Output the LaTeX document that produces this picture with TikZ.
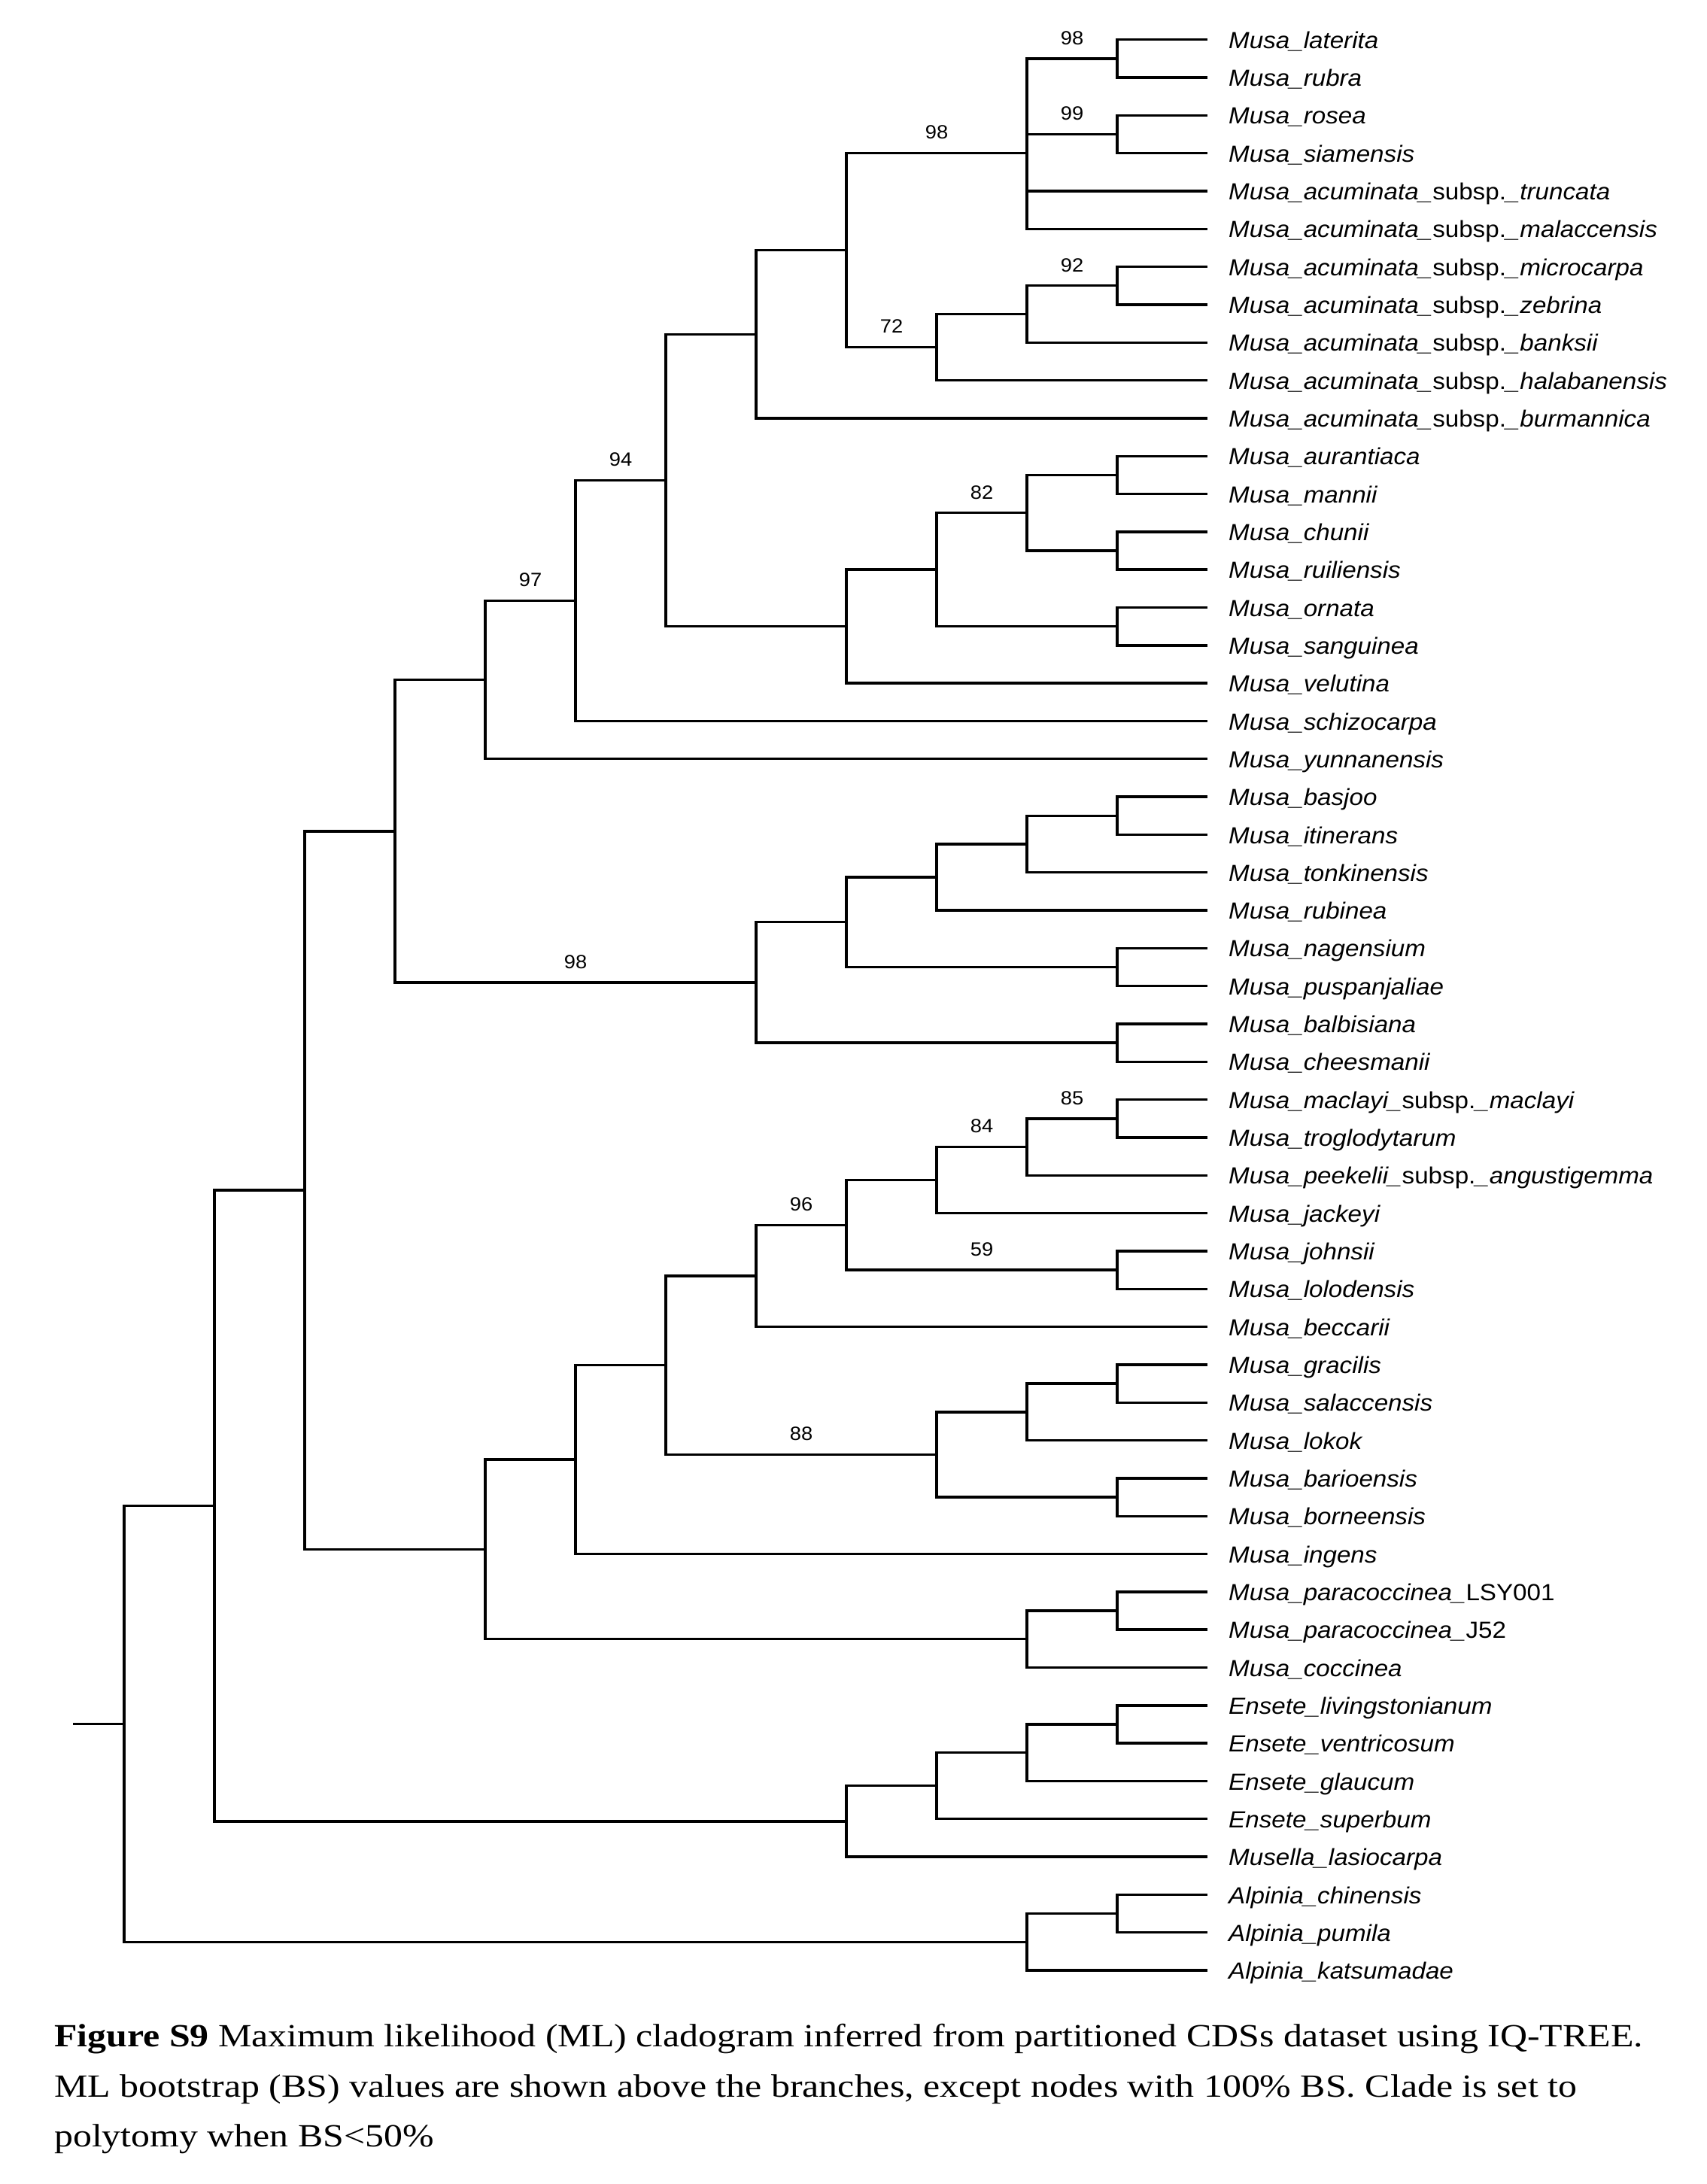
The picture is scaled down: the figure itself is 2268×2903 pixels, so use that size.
\documentclass[tikz,border=0pt]{standalone}
\usepackage{fontspec}
\setmainfont{Liberation Serif}
\newfontfamily\labfont[FakeStretch=1.07]{Liberation Sans}
\newfontfamily\capfont[FakeStretch=1.16]{Liberation Serif}
\usetikzlibrary{calc}
\newcommand\Yp[1]{52.7+(#1-1)*50.32}
\newcommand\Xl[1]{165+120*#1}
\begin{document}
\begin{tikzpicture}[x=1pt,y=-1pt,
  br/.style={line width=3.4pt, line join=miter},
  taxon/.style={anchor=base west, inner sep=0pt, xshift=28pt, yshift=-11.6pt, font=\labfont\fontsize{31}{31}\selectfont\itshape},
  bs/.style={anchor=base, inner sep=0pt, yshift=18.7pt, font=\labfont\fontsize{25.5}{25.5}\selectfont},
  captext/.style={anchor=base west, inner sep=0pt, font=\capfont\fontsize{43}{43}\selectfont}]
\useasboundingbox[fill=white] (0,0) rectangle (2268,2903);
% leaves
\foreach \t [count=\i] in {
 {Musa\_laterita},{Musa\_rubra},{Musa\_rosea},{Musa\_siamensis},
 {Musa\_acuminata\_{\upshape subsp.}\_truncata},
 {Musa\_acuminata\_{\upshape subsp.}\_malaccensis},
 {Musa\_acuminata\_{\upshape subsp.}\_microcarpa},
 {Musa\_acuminata\_{\upshape subsp.}\_zebrina},
 {Musa\_acuminata\_{\upshape subsp.}\_banksii},
 {Musa\_acuminata\_{\upshape subsp.}\_halabanensis},
 {Musa\_acuminata\_{\upshape subsp.}\_burmannica},
 {Musa\_aurantiaca},{Musa\_mannii},{Musa\_chunii},{Musa\_ruiliensis},
 {Musa\_ornata},{Musa\_sanguinea},{Musa\_velutina},{Musa\_schizocarpa},
 {Musa\_yunnanensis},{Musa\_basjoo},{Musa\_itinerans},{Musa\_tonkinensis},
 {Musa\_rubinea},{Musa\_nagensium},{Musa\_puspanjaliae},{Musa\_balbisiana},
 {Musa\_cheesmanii},
 {Musa\_maclayi\_{\upshape subsp.}\_maclayi},
 {Musa\_troglodytarum},
 {Musa\_peekelii\_{\upshape subsp.}\_angustigemma},
 {Musa\_jackeyi},{Musa\_johnsii},{Musa\_lolodensis},{Musa\_beccarii},
 {Musa\_gracilis},{Musa\_salaccensis},{Musa\_lokok},{Musa\_barioensis},
 {Musa\_borneensis},{Musa\_ingens},
 {Musa\_paracoccinea\_{\upshape LSY001}},
 {Musa\_paracoccinea\_{\upshape J52}},
 {Musa\_coccinea},{Ensete\_livingstonianum},{Ensete\_ventricosum},
 {Ensete\_glaucum},{Ensete\_superbum},{Musella\_lasiocarpa},
 {Alpinia\_chinensis},{Alpinia\_pumila},{Alpinia\_katsumadae}}
{
  \coordinate (l\i) at (1605,{\Yp{\i}});
  \node[taxon] (n\i) at (l\i) {\t};
}
% internal nodes: name/level/leaf-index
\foreach \nm/\lv/\ix in {
 a1/11/1.5, a2/11/3.5, a3/10/4.0, a4/11/7.5, a5/10/8.25, a6/9/9.125,
 a7/8/6.5625, a8/7/8.78125,
 b1/11/12.5, b2/11/14.5, b3/10/13.5, b4/11/16.5, b5/9/15, b6/8/16.5,
 c1/6/12.640625, c2/5/15.8203125, c3/4/17.91015625,
 d1/11/21.5, d2/10/22.25, d3/9/23.125, d4/11/25.5, d5/8/24.3125,
 d6/11/27.5, d7/7/25.90625, c4/3/21.908203125,
 e1/11/29.5, e2/10/30.25, e3/9/31.125, e4/11/33.5, e5/8/32.3125,
 e6/7/33.65625,
 f1/11/36.5, f2/10/37.25, f3/11/39.5, f4/9/38.375,
 g1/6/36.015625, g2/5/38.5078125, h1/11/42.5, h2/10/43.25,
 g3/4/40.87890625, m1/2/31.3935546875,
 k1/11/45.5, k2/10/46.25, k3/9/47.125, k4/8/48.0625,
 m2/1/39.72802734375, p1/11/50.5, p2/10/51.25, r/0/45.489013671875}
{
  \coordinate (\nm) at ({\Xl{\lv}},{\Yp{\ix}});
}
\coordinate (s) at (97,{\Yp{45.489013671875}});
% branches parent/child
\foreach \p/\c in {
 a1/l1, a1/l2, a2/l3, a2/l4, a3/a1, a3/a2, a3/l5, a3/l6,
 a4/l7, a4/l8, a5/a4, a5/l9, a6/a5, a6/l10, a7/a3, a7/a6, a8/a7, a8/l11,
 b1/l12, b1/l13, b2/l14, b2/l15, b3/b1, b3/b2, b4/l16, b4/l17,
 b5/b3, b5/b4, b6/b5, b6/l18,
 c1/a8, c1/b6, c2/c1, c2/l19, c3/c2, c3/l20,
 d1/l21, d1/l22, d2/d1, d2/l23, d3/d2, d3/l24, d4/l25, d4/l26,
 d5/d3, d5/d4, d6/l27, d6/l28, d7/d5, d7/d6, c4/c3, c4/d7,
 e1/l29, e1/l30, e2/e1, e2/l31, e3/e2, e3/l32, e4/l33, e4/l34,
 e5/e3, e5/e4, e6/e5, e6/l35,
 f1/l36, f1/l37, f2/f1, f2/l38, f3/l39, f3/l40, f4/f2, f4/f3,
 g1/e6, g1/f4, g2/g1, g2/l41, h1/l42, h1/l43, h2/h1, h2/l44,
 g3/g2, g3/h2, m1/c4, m1/g3,
 k1/l45, k1/l46, k2/k1, k2/l47, k3/k2, k3/l48, k4/k3, k4/l49,
 m2/m1, m2/k4, p1/l50, p1/l51, p2/p1, p2/l52, r/m2, r/p2}
{
  \draw[br] (\p) |- (\c);
}
\draw[br] (s) -- (r);
% bootstrap values
\foreach \p/\c/\v [count=\j] in {
 a3/a1/98, a3/a2/99, a7/a3/98, a5/a4/92, a7/a6/72, c2/c1/94, b5/b3/82,
 c3/c2/97, c4/d7/98, e2/e1/85, e3/e2/84, e6/e5/96, e5/e4/59, g1/f4/88}
{
  \node[bs] (bs\j) at ($(\p |- \c)!0.5!(\c)$) {\v};
}
% caption
\node[captext] (cap1) at (72,2720) {\textbf{Figure S9} Maximum likelihood (ML) cladogram inferred from partitioned CDSs dataset using IQ-TREE.};
\node[captext] (cap2) at (72,2787) {ML bootstrap (BS) values are shown above the branches, except nodes with 100\% BS. Clade is set to};
\node[captext] (cap3) at (72,2853) {polytomy when BS<50\%};
\end{tikzpicture}
\end{document}
